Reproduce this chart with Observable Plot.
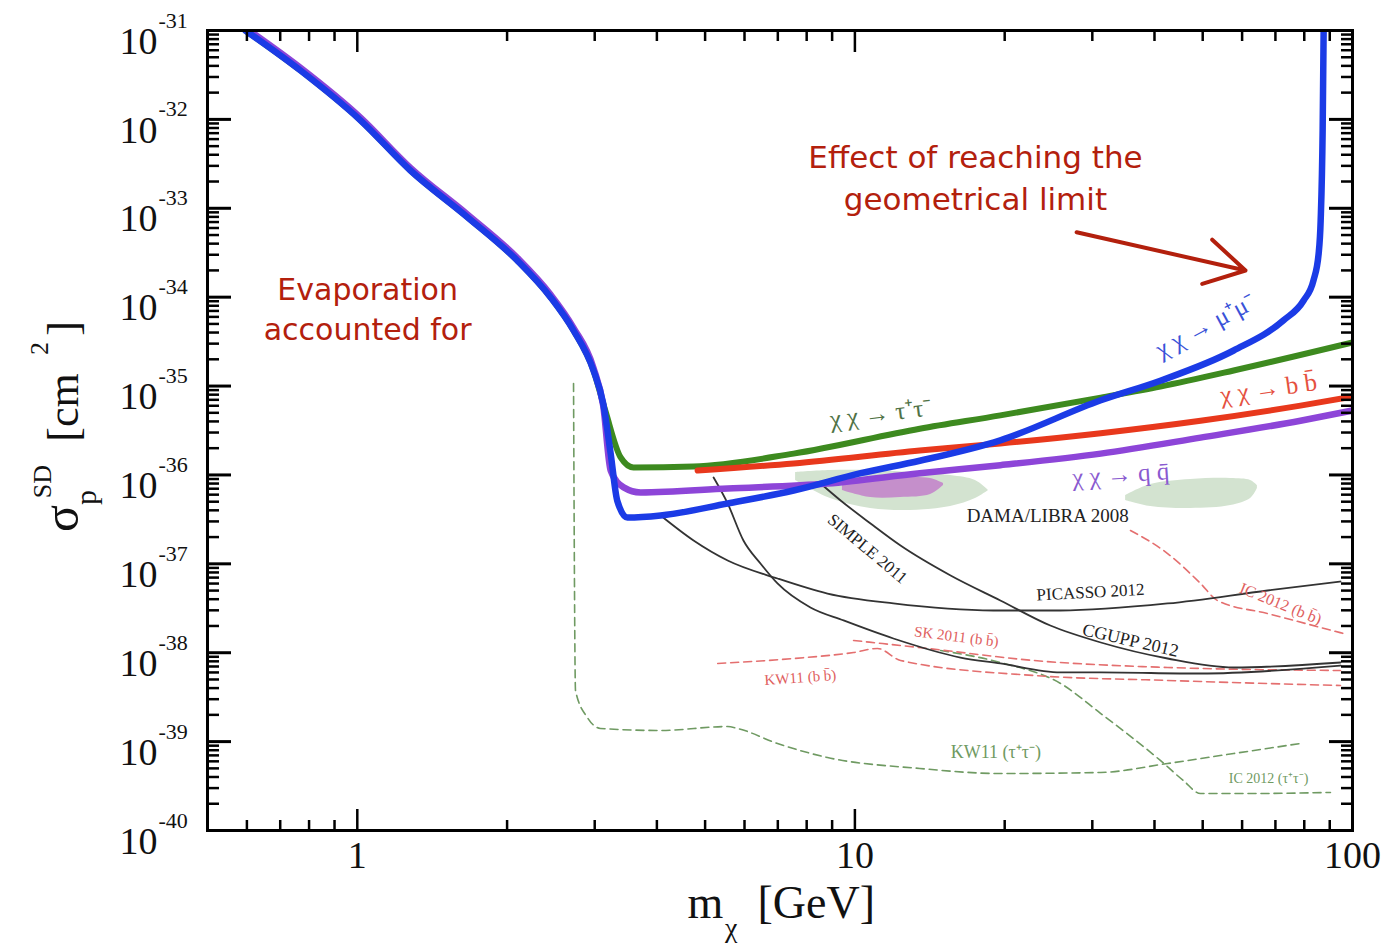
<!DOCTYPE html>
<html>
<head>
<meta charset="utf-8">
<script src="https://cdn.jsdelivr.net/npm/d3@7"></script>
<script src="https://cdn.jsdelivr.net/npm/@observablehq/plot@0.6"></script>
<style>
  html, body { margin: 0; padding: 0; background: #fff; }
  #chart svg { display: block; }
</style>
</head>
<body>
<div id="chart"></div>
<script>
// ---------- DATA (mass in GeV, log10 of sigma in cm^2) ----------
// common low-mass part shared by the annihilation channels
const sharedMass = [0.596, 0.769, 1.015, 1.279, 1.665, 2.099, 2.445, 2.72, 2.983];
const sharedLog  = [-31.0, -31.45, -32.01, -32.575, -33.10, -33.59, -34.00, -34.375, -34.825];
// q qbar low-mass part (sits a hair above the others)
const qLowLog    = [-30.97, -31.42, -31.98, -32.545, -33.07, -33.56, -33.97, -34.345, -34.795];

// chi chi -> mu+ mu-  (blue)
const muMass = [3.12, 3.23, 3.33, 3.49, 4.07, 5.55, 7.53, 10.27, 13.5, 19.6, 31.2, 41.1, 57.7, 72.7, 79.7, 83.5, 85.5, 86.3, 87.1, 87.5];
const muLog  = [-35.196, -35.76, -36.29, -36.479, -36.456, -36.321, -36.175, -35.98, -35.84, -35.61, -35.16, -34.94, -34.6, -34.26, -34.04, -33.81, -33.51, -33.14, -32.12, -31.0];

// chi chi -> tau+ tau-  (green)
const tauMass = [3.15, 3.38, 3.59, 4.74, 7.53, 13.5, 19.6, 31.2, 41.1, 57.7, 100];
const tauLog  = [-35.275, -35.80, -35.916, -35.905, -35.76, -35.48, -35.33, -35.13, -35.005, -34.825, -34.51];

// chi chi -> q qbar  (purple)
const qMass = [3.12, 3.23, 3.43, 3.71, 5.55, 8.81, 13.5, 19.6, 31.2, 49.5, 78.6, 100];
const qLog  = [-35.22, -35.95, -36.14, -36.197, -36.152, -36.096, -35.98, -35.89, -35.76, -35.58, -35.39, -35.275];

// chi chi -> b bbar  (red)
const bMass = [4.83, 7.53, 13.5, 19.6, 31.2, 49.5, 78.6, 100];
const bLog  = [-35.95, -35.87, -35.725, -35.646, -35.53, -35.39, -35.22, -35.12];

// direct detection limits (black)
const picassoMass = [4.07, 4.74, 5.55, 6.99, 8.81, 11.95, 18.99, 25.9, 42.5, 67.5, 94.6];
const picassoLog  = [-36.456, -36.737, -36.962, -37.165, -37.334, -37.446, -37.525, -37.525, -37.446, -37.30, -37.199];
const simpleMass = [5.20, 5.55, 5.97, 6.46, 6.99, 8.14, 9.49, 11.95, 16.3, 19.6, 25.9, 31.2, 49.5, 94.6];
const simpleLog  = [-36.029, -36.321, -36.737, -36.996, -37.221, -37.491, -37.637, -37.84, -38.054, -38.121, -38.222, -38.222, -38.234, -38.144];
const couppMass = [8.53, 9.36, 10.75, 12.35, 15.57, 19.6, 24.7, 31.2, 42.5, 57.7, 94.6];
const couppLog  = [-36.096, -36.287, -36.546, -36.794, -37.131, -37.412, -37.694, -37.885, -38.065, -38.166, -38.11];

// neutrino telescope limits, b bbar (red dashed)
const skMass = [9.94, 14.0, 22.86, 42.5, 94.6];
const skLog  = [-37.862, -37.952, -38.087, -38.166, -38.2];
const kwbMass = [5.30, 7.53, 9.94, 11.1, 12.35, 22.86, 42.5, 94.6];
const kwbLog  = [-38.121, -38.065, -37.997, -37.952, -38.087, -38.256, -38.312, -38.369];
const icbMass = [35.8, 42.5, 49.5, 53.5, 67.5, 95.9];
const icbLog  = [-36.625, -36.884, -37.221, -37.412, -37.559, -37.784];

// neutrino telescope limits, tau+ tau- (green dashed)
const kwtMass = [2.72, 2.745, 2.90, 3.08, 4.07, 5.55, 5.81, 6.99, 8.81, 13.5, 19.6, 31.2, 42.5, 57.7, 78.6];
const kwtLog  = [-34.971, -38.425, -38.729, -38.852, -38.875, -38.83, -38.852, -39.021, -39.179, -39.302, -39.359, -39.347, -39.246, -39.134, -39.021];
const ictMass = [14.86, 19.6, 25.9, 31.2, 41.1, 45.7, 49.5, 62.4, 90.3];
const ictLog  = [-37.975, -38.11, -38.346, -38.684, -39.212, -39.437, -39.584, -39.584, -39.572];

// DAMA/LIBRA 2008 regions (mass, upper log, lower log)
const damaAMass = [7.60, 8.93, 10.75, 12.93, 15.57, 17.47, 18.56];
const damaAHi   = [-35.972, -35.95, -35.95, -35.972, -36.006, -36.062, -36.175];
const damaALo   = [-36.062, -36.265, -36.377, -36.4, -36.355, -36.265, -36.175];
const damaPMass = [9.44, 10.75, 12.35, 14.19, 15.07];
const damaPHi   = [-36.085, -36.04, -36.029, -36.04, -36.096];
const damaPLo   = [-36.175, -36.254, -36.254, -36.22, -36.119];
const damaBMass = [35.0, 39.3, 47.3, 56.9, 62.4, 64.4];
const damaBHi   = [-36.231, -36.107, -36.051, -36.04, -36.062, -36.119];
const damaBLo   = [-36.287, -36.355, -36.377, -36.344, -36.265, -36.152];

// ticks
const yExponents = [-40, -39, -38, -37, -36, -35, -34, -33, -32, -31];
const xMajor = [1, 10, 100];
const xMinor = [0.6, 0.7, 0.8, 0.9, 2, 3, 4, 5, 6, 7, 8, 9, 20, 30, 40, 50, 60, 70, 80, 90];

// ---------- BUILD ----------
const rows = (mass, logs) => mass.map((m, i) => ({m, s: 10 ** logs[i]}));
const band = (mass, hi, lo) => mass.map((m, i) => ({m, hi: 10 ** hi[i], lo: 10 ** lo[i]}));
const yMajor = yExponents.map(e => 10 ** e);
const yMinor = [];
for (const e of yExponents.slice(0, -1)) for (let k = 2; k <= 9; k++) yMinor.push(k * 10 ** e);

const SERIF = "Liberation Serif, Times New Roman, serif";
const HAND = "DejaVu Sans, sans-serif";
const ANN = "#b3200d";

const muData  = rows(sharedMass.concat(muMass), sharedLog.concat(muLog));
const tauData = rows(sharedMass.concat(tauMass), sharedLog.concat(tauLog));
const qData   = rows(sharedMass.concat(qMass), qLowLog.concat(qLog));
const bData   = rows(bMass, bLog);

function lbl(txt, m, logS, opts) {
  return Plot.text([{m, s: 10 ** logS}], {x: "m", y: "s", text: () => txt, fontFamily: SERIF, ...opts});
}
function piece(txt, opts) {
  return Plot.text([txt], {text: d => d, fontFamily: SERIF, fill: "#111", ...opts});
}

const chart = Plot.plot({
  width: 1383,
  height: 952,
  marginLeft: 207,
  marginRight: 31,
  marginTop: 30,
  marginBottom: 122,
  style: {background: "white"},
  x: {type: "log", domain: [0.5, 100]},
  y: {type: "log", domain: [1e-40, 1e-31]},
  marks: [
    // DAMA regions
    Plot.areaY(band(damaAMass, damaAHi, damaALo), {x: "m", y1: "lo", y2: "hi", fill: "#d3e3d0", curve: "catmull-rom"}),
    Plot.areaY(band(damaBMass, damaBHi, damaBLo), {x: "m", y1: "lo", y2: "hi", fill: "#d3e3d0", curve: "catmull-rom"}),
    Plot.areaY(band(damaPMass, damaPHi, damaPLo), {x: "m", y1: "lo", y2: "hi", fill: "#c58fcb", curve: "catmull-rom"}),

    // dashed neutrino telescope limits
    Plot.line(rows(kwtMass, kwtLog), {x: "m", y: "s", stroke: "#6f9a62", strokeWidth: 1.6, strokeDasharray: "8,5", curve: "monotone-x"}),
    Plot.line(rows(ictMass, ictLog), {x: "m", y: "s", stroke: "#6f9a62", strokeWidth: 1.6, strokeDasharray: "8,5", curve: "monotone-x"}),
    Plot.line(rows(skMass, skLog), {x: "m", y: "s", stroke: "#e46f6f", strokeWidth: 1.6, strokeDasharray: "8,5", curve: "monotone-x"}),
    Plot.line(rows(kwbMass, kwbLog), {x: "m", y: "s", stroke: "#e46f6f", strokeWidth: 1.6, strokeDasharray: "8,5", curve: "monotone-x"}),
    Plot.line(rows(icbMass, icbLog), {x: "m", y: "s", stroke: "#e46f6f", strokeWidth: 1.6, strokeDasharray: "8,5", curve: "monotone-x"}),

    // direct detection limits
    Plot.line(rows(picassoMass, picassoLog), {x: "m", y: "s", stroke: "#333", strokeWidth: 1.8, curve: "monotone-x"}),
    Plot.line(rows(simpleMass, simpleLog), {x: "m", y: "s", stroke: "#333", strokeWidth: 1.8, curve: "monotone-x"}),
    Plot.line(rows(couppMass, couppLog), {x: "m", y: "s", stroke: "#333", strokeWidth: 1.8, curve: "monotone-x"}),

    // capture limits
    Plot.line(tauData, {x: "m", y: "s", stroke: "#3d8a1f", strokeWidth: 6, curve: "monotone-x", clip: true}),
    Plot.line(bData, {x: "m", y: "s", stroke: "#e8381c", strokeWidth: 6, curve: "monotone-x", clip: true}),
    Plot.line(qData, {x: "m", y: "s", stroke: "#8d45d8", strokeWidth: 6.5, curve: "monotone-x", clip: true}),
    Plot.line(muData, {x: "m", y: "s", stroke: "#1b3be6", strokeWidth: 6.5, curve: "monotone-x", clip: true}),

    // ticks (inward)
    Plot.axisY(yMinor, {anchor: "left", tickSize: -12, tickFormat: () => "", stroke: "black", strokeWidth: 2.5, label: null}),
    Plot.axisY(yMajor, {anchor: "left", tickSize: -24, tickFormat: () => "", stroke: "black", strokeWidth: 3, label: null}),
    Plot.axisY(yMinor, {anchor: "right", tickSize: -12, tickFormat: () => "", stroke: "black", strokeWidth: 2.5, label: null}),
    Plot.axisY(yMajor, {anchor: "right", tickSize: -24, tickFormat: () => "", stroke: "black", strokeWidth: 3, label: null}),
    Plot.axisX(xMinor, {anchor: "bottom", tickSize: -10, tickFormat: () => "", stroke: "black", strokeWidth: 2.5, label: null}),
    Plot.axisX(xMajor, {anchor: "bottom", tickSize: -21, tickFormat: () => "", stroke: "black", strokeWidth: 2.5, label: null}),
    Plot.axisX(xMinor, {anchor: "top", tickSize: -10, tickFormat: () => "", stroke: "black", strokeWidth: 2.5, label: null}),
    Plot.axisX(xMajor, {anchor: "top", tickSize: -21, tickFormat: () => "", stroke: "black", strokeWidth: 2.5, label: null}),

    // tick labels
    Plot.axisY(yMajor, {anchor: "left", tickSize: 0, tickPadding: 50, tickFormat: () => "10", fontSize: 38, fontFamily: SERIF, fill: "#111", dy: 11, label: null}),
    Plot.axisY(yMajor, {anchor: "left", tickSize: 0, tickPadding: 49, textAnchor: "start", tickFormat: d => String(Math.round(Math.log10(d))), fontSize: 22, fontFamily: SERIF, fill: "#111", dy: -10, label: null}),
    Plot.axisX(xMajor, {anchor: "bottom", tickSize: 0, tickPadding: 11, tickFormat: d => String(d), fontSize: 38, fontFamily: SERIF, fill: "#111", label: null}),

    Plot.frame({stroke: "black", strokeWidth: 3}),

    // axis titles
    piece("m", {frameAnchor: "bottom", textAnchor: "start", lineAnchor: "bottom", dx: -92.5, dy: 87, fontSize: 46}),
    piece("χ", {frameAnchor: "bottom", textAnchor: "start", lineAnchor: "bottom", dx: -55, dy: 106, fontSize: 28}),
    piece("[GeV]", {frameAnchor: "bottom", textAnchor: "start", lineAnchor: "bottom", dx: -22.5, dy: 87, fontSize: 46}),
    piece("σ", {frameAnchor: "left", textAnchor: "middle", rotate: -90, lineAnchor: "bottom", dx: -130, dy: 88, fontSize: 50}),
    piece("p", {frameAnchor: "left", textAnchor: "middle", rotate: -90, lineAnchor: "bottom", dx: -112, dy: 67, fontSize: 30}),
    piece("SD", {frameAnchor: "left", textAnchor: "middle", rotate: -90, lineAnchor: "bottom", dx: -157, dy: 51, fontSize: 26}),
    piece("[cm", {frameAnchor: "left", textAnchor: "middle", rotate: -90, lineAnchor: "bottom", dx: -130, dy: -23, fontSize: 44}),
    piece("2", {frameAnchor: "left", textAnchor: "middle", rotate: -90, lineAnchor: "bottom", dx: -160, dy: -82, fontSize: 26}),
    piece("]", {frameAnchor: "left", textAnchor: "middle", rotate: -90, lineAnchor: "bottom", dx: -130, dy: -102, fontSize: 44}),

    // curve labels
    lbl("χ χ → τ⁺τ⁻", 11.26, -35.309, {rotate: -7, fontSize: 25, fill: "#4f7245"}),
    lbl("χ χ → μ⁺μ⁻", 50.6, -34.32, {rotate: -28, fontSize: 25, fill: "#3a52d8"}),
    lbl("χ χ → b b̄", 67.8, -35.03, {rotate: -8, fontSize: 25, fill: "#e5513f"}),
    lbl("χ χ → q q̄", 34.2, -35.995, {rotate: -4, fontSize: 25, fill: "#8a5ad0"}),
    lbl("DAMA/LIBRA 2008", 24.4, -36.456, {fontSize: 19, fill: "#222"}),
    lbl("SIMPLE 2011", 10.6, -36.83, {rotate: 40, fontSize: 17, fill: "#222"}),
    lbl("PICASSO 2012", 29.75, -37.32, {rotate: -3, fontSize: 17, fill: "#222"}),
    lbl("CGUPP 2012", 35.8, -37.86, {rotate: 13, fontSize: 18, fill: "#222"}),
    lbl("IC 2012 (b b̄)", 71.7, -37.45, {rotate: 22, fontSize: 16, fill: "#e06060"}),
    lbl("SK 2011 (b b̄)", 16.0, -37.82, {rotate: 7, fontSize: 15, fill: "#e06060"}),
    lbl("KW11 (b b̄)", 7.77, -38.28, {rotate: -4, fontSize: 15, fill: "#e06060"}),
    lbl("KW11 (τ⁺τ⁻)", 19.2, -39.12, {fontSize: 18, fill: "#6f9a62"}),
    lbl("IC 2012 (τ⁺τ⁻)", 67.8, -39.415, {fontSize: 14, fill: "#6f9a62"}),

    // annotations
    lbl("Evaporation", 1.049, -33.925, {fontFamily: HAND, fontSize: 30, fill: ANN}),
    lbl("accounted for", 1.049, -34.375, {fontFamily: HAND, fontSize: 30, fill: ANN}),
    lbl("Effect of reaching the", 17.47, -32.44, {fontFamily: HAND, fontSize: 31, fill: ANN}),
    lbl("geometrical limit", 17.47, -32.91, {fontFamily: HAND, fontSize: 31, fill: ANN}),
    Plot.arrow([{m1: 27.9, s1: 10 ** -33.27, m2: 60.95, s2: 10 ** -33.70}], {x1: "m1", y1: "s1", x2: "m2", y2: "s2", stroke: ANN, strokeWidth: 4, headLength: 17})
  ]
});

document.getElementById("chart").appendChild(chart);
</script>
</body>
</html>
